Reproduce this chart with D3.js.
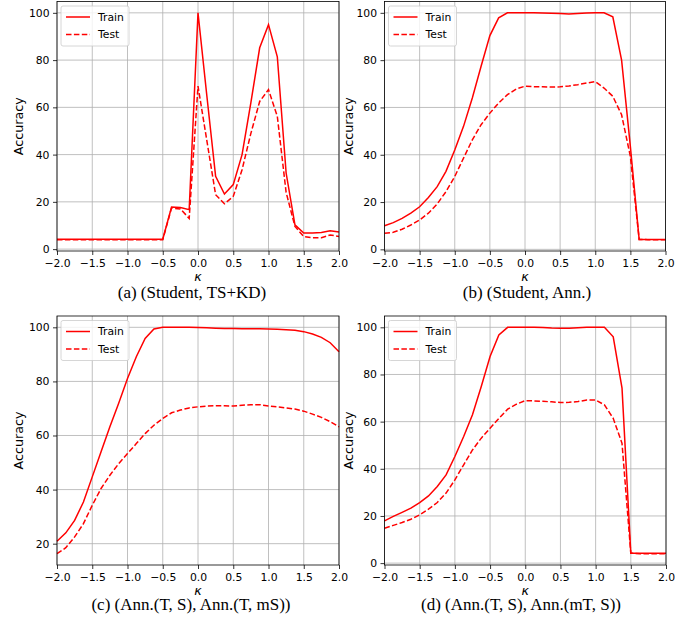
<!DOCTYPE html>
<html>
<head>
<meta charset="utf-8">
<script src="https://cdn.jsdelivr.net/npm/d3@7"></script>
<style>
  body { margin: 0; background: #fff; }
  svg text { font-family: "DejaVu Sans", sans-serif; fill: #000; }
  svg text.caption { font-family: "Liberation Serif", "Times New Roman", serif; }
</style>
</head>
<body>
<div id="wrapper"></div>
<script>
// kappa grid shared by all four panels
const kappa = [-2, -1.875, -1.75, -1.625, -1.5, -1.375, -1.25, -1.125, -1, -0.875, -0.75, -0.625, -0.5, -0.375, -0.25, -0.125,
  0, 0.125, 0.25, 0.375, 0.5, 0.625, 0.75, 0.875, 1, 1.125, 1.25, 1.375, 1.5, 1.625, 1.75, 1.875, 2];

// (a) (Student, TS+KD)
const trainA = [4.2, 4.2, 4.2, 4.2, 4.2, 4.2, 4.2, 4.2, 4.2, 4.2, 4.2, 4.2, 4.2, 17.8, 17.6, 16.7,
  100, 65, 30.8, 23.3, 27.3, 40, 62, 85.2, 95, 81.4, 32.2, 10.3, 6.8, 6.8, 7, 7.8, 7.2];
const testA = [4.0, 4.0, 4.0, 4.0, 4.0, 4.0, 4.0, 4.0, 4.0, 4.0, 4.0, 4.0, 4.0, 17.4, 17, 13,
  69, 46, 23, 19.2, 22.3, 33.6, 49, 62.5, 67.5, 56.2, 24, 9.6, 5.3, 4.8, 4.8, 6, 5.3];

// (b) (Student, Ann.)
const trainB = [10, 11.3, 13.1, 15.3, 18, 21.9, 26.5, 33, 42, 52, 64, 77.4, 90.4, 97.9, 100, 100,
  100, 100, 99.9, 99.8, 99.7, 99.5, 99.7, 99.9, 100, 100, 98.3, 80, 43.5, 4.2, 4.2, 4.2, 4.2];
const testB = [6.8, 7.2, 8.5, 10.3, 12.4, 15.3, 19.2, 24.4, 30.8, 38.6, 46.3, 52.7, 57.6, 61.9, 65.4, 67.8,
  69, 68.8, 68.7, 68.6, 68.7, 69.1, 69.6, 70.3, 70.9, 68.2, 64.7, 56.9, 39.3, 4.2, 4.1, 4.1, 4.1];

// (c) (Ann.(T, S), Ann.(T, mS))
const trainC = [20.9, 24, 28.6, 35.4, 44.7, 54, 63.2, 71.9, 81.1, 89.1, 95.9, 99.4, 100, 100, 100, 100,
  99.9, 99.8, 99.7, 99.6, 99.6, 99.5, 99.5, 99.5, 99.4, 99.3, 99.1, 98.9, 98.4, 97.5, 96.3, 94.3, 91];
const testC = [16.3, 18.5, 22.5, 27.4, 34.2, 40.4, 45.3, 49.6, 53.3, 57, 60.7, 63.8, 66.3, 68.4, 69.4, 70.2,
  70.6, 70.9, 71, 71, 70.9, 71.2, 71.4, 71.4, 70.9, 70.6, 70.2, 69.8, 69, 67.9, 66.7, 65.1, 63.2];

// (d) (Ann.(T, S), Ann.(mT, S))
const trainD = [17.9, 19.8, 21.5, 23.3, 25.7, 28.5, 32.5, 37.4, 45.2, 53.7, 62.9, 74.9, 87.6, 96.8, 100, 100,
  100, 100, 99.9, 99.7, 99.6, 99.6, 99.8, 100, 100, 100, 96, 74.2, 4.2, 4.2, 4.2, 4.2, 4.2];
const testD = [14.8, 16, 17.2, 18.6, 20.5, 22.9, 25.7, 29.7, 35.3, 41.7, 48, 53, 57.2, 61.4, 65.3, 67.4,
  68.9, 68.8, 68.6, 68.4, 68.1, 68.2, 68.5, 69.2, 69.2, 67.1, 61.4, 50.8, 4.2, 4.0, 4.0, 4.0, 4.0];

const xTicks = [-2, -1.5, -1, -0.5, 0, 0.5, 1, 1.5, 2];
const yTicksFromZero = [0, 20, 40, 60, 80, 100];
const yTicksFromTwenty = [20, 40, 60, 80, 100];
const seriesNames = ["Train", "Test"];
const captions = [
  "(a) (Student, TS+KD)",
  "(b) (Student, Ann.)",
  "(c) (Ann.(T, S), Ann.(T, mS))",
  "(d) (Ann.(T, S), Ann.(mT, S))",
];

function drawChart() {
  const width = 676;
  const height = 624;

  const panels = [
    { train: trainA, test: testA, yTicks: yTicksFromZero, caption: captions[0],
      left: 57, right: 339, top: 1.5, bottom: 251, labelX: 18, capX: 192, capY: 298 },
    { train: trainB, test: testB, yTicks: yTicksFromZero, caption: captions[1],
      left: 384.5, right: 665.5, top: 1.5, bottom: 251, labelX: 348, capX: 527, capY: 298 },
    { train: trainC, test: testC, yTicks: yTicksFromTwenty, caption: captions[2],
      left: 57, right: 339, top: 316, bottom: 565, labelX: 18, capX: 191, capY: 610 },
    { train: trainD, test: testD, yTicks: yTicksFromZero, caption: captions[3],
      left: 384.5, right: 666, top: 316, bottom: 565, labelX: 348, capX: 521, capY: 610 },
  ];

  const wrapper = d3
    .select("#wrapper")
    .append("svg")
    .attr("width", width)
    .attr("height", height);

  const fmt = d3.format(".1f");

  panels.forEach((p) => {
    const w = p.right - p.left;
    const h = p.bottom - p.top;

    // matplotlib style 5% margin on y
    const lo = d3.min([...p.train, ...p.test]);
    const hi = d3.max([...p.train, ...p.test]);
    const pad = (hi - lo) * 0.05;

    const xScale = d3.scaleLinear().domain([-2, 2]).range([0, w]);
    const yScale = d3.scaleLinear().domain([lo - pad, hi + pad]).range([h, 0]);

    const bounds = wrapper
      .append("g")
      .attr("transform", `translate(${p.left},${p.top})`);

    // grid
    bounds.append("g")
      .selectAll("line")
      .data(xTicks)
      .join("line")
      .attr("x1", (d) => xScale(d))
      .attr("x2", (d) => xScale(d))
      .attr("y1", 0)
      .attr("y2", h)
      .attr("stroke", "#b0b0b0")
      .attr("stroke-width", 0.8);
    bounds.append("g")
      .selectAll("line")
      .data(p.yTicks)
      .join("line")
      .attr("x1", 0)
      .attr("x2", w)
      .attr("y1", (d) => yScale(d))
      .attr("y2", (d) => yScale(d))
      .attr("stroke", "#b0b0b0")
      .attr("stroke-width", 0.8);

    // lines
    const line = d3
      .line()
      .x((d, i) => xScale(kappa[i]))
      .y((d) => yScale(d));

    bounds.append("path")
      .datum(p.train)
      .attr("d", line)
      .attr("fill", "none")
      .attr("stroke", "#ff0000")
      .attr("stroke-width", 1.5);
    bounds.append("path")
      .datum(p.test)
      .attr("d", line)
      .attr("fill", "none")
      .attr("stroke", "#ff0000")
      .attr("stroke-width", 1.5)
      .attr("stroke-dasharray", "5.5,2.4");

    // axes
    const xAxis = bounds.append("g")
      .attr("transform", `translate(0,${h})`)
      .call(d3.axisBottom(xScale).tickValues(xTicks).tickFormat(fmt).tickSize(4).tickPadding(4));
    const yAxis = bounds.append("g")
      .call(d3.axisLeft(yScale).tickValues(p.yTicks).tickFormat(d3.format("d")).tickSize(4).tickPadding(3.5));
    [xAxis, yAxis].forEach((a) => {
      a.select(".domain").remove();
      a.selectAll(".tick line").attr("stroke", "#000").attr("stroke-width", 0.8);
      a.selectAll(".tick text")
        .attr("font-size", "10.8px")
        .attr("font-family", "DejaVu Sans")
        .attr("fill", "#111");
    });

    // frame
    bounds.append("rect")
      .attr("width", w)
      .attr("height", h)
      .attr("fill", "none")
      .attr("stroke", "#000")
      .attr("stroke-width", 0.8);

    // labels
    bounds.append("text")
      .attr("x", w / 2)
      .attr("y", h + 30)
      .attr("text-anchor", "middle")
      .attr("font-size", "12.7px")
      .attr("font-style", "italic")
      .text("κ");

    bounds.append("text")
      .attr("transform", `translate(${p.labelX - p.left},${h / 2}) rotate(-90)`)
      .attr("text-anchor", "middle")
      .attr("dominant-baseline", "central")
      .attr("font-size", "12.7px")
      .attr("fill", "#111")
      .text("Accuracy");

    // legend
    const legend = bounds.append("g").attr("transform", "translate(4,4.5)");
    legend.append("rect")
      .attr("width", 68)
      .attr("height", 40)
      .attr("rx", 2)
      .attr("fill", "#fff")
      .attr("fill-opacity", 0.8)
      .attr("stroke", "#cccccc")
      .attr("stroke-width", 0.8);
    const rows = legend.selectAll(".row")
      .data(seriesNames)
      .join("g")
      .attr("class", "row")
      .attr("transform", (d, i) => `translate(0,${11 + i * 17.6})`);
    rows.append("line")
      .attr("x1", 5)
      .attr("x2", 29)
      .attr("stroke", "#ff0000")
      .attr("stroke-width", 1.5)
      .attr("stroke-dasharray", (d, i) => (i === 0 ? null : "5.5,2.4"));
    rows.append("text")
      .attr("x", 37)
      .attr("dominant-baseline", "central")
      .attr("font-size", "10.8px")
      .attr("fill", "#111")
      .text((d) => d);

    // caption
    wrapper.append("text")
      .attr("class", "caption")
      .attr("x", p.capX)
      .attr("y", p.capY)
      .attr("text-anchor", "middle")
      .attr("font-size", "17px")
      .text(p.caption);
  });
}

drawChart();
</script>
</body>
</html>
